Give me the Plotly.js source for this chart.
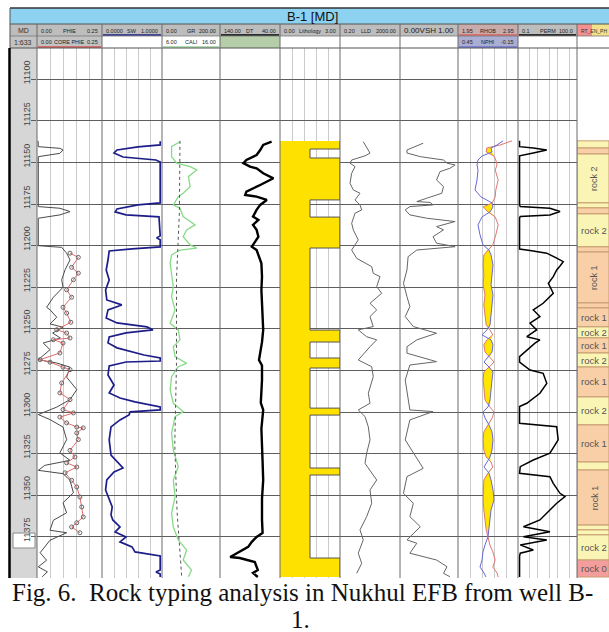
<!DOCTYPE html>
<html><head><meta charset="utf-8">
<script src="https://cdn.plot.ly/plotly-3.0.1.min.js"></script>
<style>html,body{margin:0;padding:0;background:#fff;} #chart{width:609px;height:632px;}</style>
</head><body><div id="chart"></div>
<script>
// ---------------- DATA ----------------
const depthTicks = [11100,11125,11150,11175,11200,11225,11250,11275,11300,11325,11350,11375,11400];

const phieDepth = [11137,11140.5,11141.5,11142.5,11144.5,11146.5,11176.5,11177.5,11179.5,11181.5,11183.5,11200,11201,11204.5,11208.5,11214.5,11220.5,11225,11231,11237,11238.5,11243,11247,11249,11252.5,11255.5,11258.5,11262.5,11268.5,11270.5,11273,11279,11286.5,11292.5,11297,11301.5,11304.5,11309,11316.5,11324.5,11329,11332,11335,11337,11341,11348.5,11354.5,11360.5,11365,11371,11372.5,11377,11384.5,11389,11393,11396,11399];
const phieVal = [0.004,0.005,0.088,0.10,0.088,0.005,0.005,0.088,0.127,0.088,0.005,0.005,0.095,0.114,0.127,0.108,0.095,0.10,0.063,0.037,0.05,0.076,0.05,0.10,0.06,0.09,0.024,0.05,0.005,0.076,0.127,0.114,0.153,0.127,0.076,0.005,0.05,0.10,0.114,0.088,0.127,0.03,0.005,0.10,0.127,0.14,0.10,0.114,0.063,0.05,0.114,0.05,0.012,0.037,0.005,0.04,0.02];

const coreDepth = [11204.5,11207,11213,11216.5,11220.5,11226.5,11231,11237,11240.5,11246,11250.5,11252.5,11255.5,11256.5,11258.5,11264.5,11268.5,11270,11273,11274.5,11282.5,11288.5,11292.5,11298.5,11300.5,11303,11306.5,11309,11309.5,11312.5,11316.5,11323,11327,11330.5,11333,11336.5,11341,11345,11351,11357,11363,11366.5,11369,11372.5];
const coreVal = [0.127,0.159,0.133,0.159,0.14,0.114,0.133,0.10,0.114,0.13,0.076,0.114,0.127,0.063,0.10,0.088,0.012,0.05,0.10,0.127,0.095,0.088,0.127,0.10,0.14,0.088,0.114,0.153,0.178,0.153,0.159,0.127,0.146,0.114,0.153,0.108,0.133,0.153,0.165,0.172,0.178,0.153,0.133,0.165];

const swDepth = [11137.3,11139.4,11140.6,11142.5,11144.3,11146.7,11148.5,11149.7,11174.3,11175.5,11177.9,11179.7,11181.5,11182.7,11194.1,11195.3,11196.5,11200.7,11201.9,11203.2,11208.6,11214.6,11220.6,11226.6,11232.6,11235.6,11238.6,11243.4,11246.4,11248.8,11250.6,11252.4,11254.8,11258.4,11261.4,11265.7,11267.5,11269.3,11269.9,11272.3,11277.7,11283.7,11288.5,11291.5,11293.9,11296.9,11298.7,11299.9,11301.7,11304.7,11308.9,11316.7,11325.8,11331.8,11333.6,11336.0,11340.8,11346.8,11352.8,11357.0,11361.8,11364.8,11369.0,11372.0,11375.0,11378.0,11381.0,11384.0,11386.5,11394.9,11396.1,11397.3,11399.1];
const swVal = [0.97,0.97,0.6,0.25,0.2,0.35,0.9,0.97,0.97,0.6,0.25,0.22,0.4,0.95,0.97,0.91,0.97,0.97,0.5,0.12,0.1,0.07,0.12,0.06,0.08,0.33,0.1,0.07,0.25,0.75,0.85,0.4,0.12,0.1,0.25,0.7,0.97,0.97,0.4,0.12,0.1,0.2,0.12,0.3,0.55,0.97,0.97,0.47,0.45,0.3,0.15,0.12,0.15,0.3,0.35,0.2,0.08,0.06,0.12,0.17,0.15,0.18,0.3,0.22,0.4,0.3,0.5,0.55,0.97,0.97,0.9,0.97,0.97];

const grDepth = [11137.5,11140.5,11146.5,11150.4,11152.5,11154.5,11158.5,11164.5,11168.5,11170.5,11175.5,11177.5,11182.5,11185.5,11187.5,11190.5,11194.6,11199.5,11201.5,11202.6,11205.6,11210.6,11216.6,11224.6,11230.6,11238.6,11246.6,11250.6,11256.6,11260.7,11266.7,11270.7,11272.7,11278.7,11286.7,11294.7,11299.7,11302.7,11312.7,11322.8,11332.8,11340.8,11350.8,11360.8,11368.9,11376.8,11382.9,11388.9,11394.9,11398.9];
const grVal = [62,33,33,51,97,120,91,97,73,56,39,62,73,97,114,85,73,97,120,62,33,28,33,39,33,45,28,56,62,39,45,85,56,33,28,39,73,45,33,39,56,39,45,33,39,56,85,73,102,91];

const caliDepth = [11137,11180,11220,11270,11320,11360,11399];
const caliVal = [9.1,9.0,8.5,8.5,8.2,8.6,9.4];

const dtDepth = [11137.5,11139.4,11142.5,11145.5,11148.5,11150.4,11152.5,11153.5,11156.5,11159.5,11163.5,11167.5,11169.5,11170.5,11172.5,11175.5,11178.5,11182.5,11184.5,11187.5,11190.5,11194.6,11200.6,11202.6,11210.6,11218.6,11226.6,11240,11250.6,11258,11268.7,11272,11280.7,11294.5,11298.7,11310,11316.7,11330,11340.8,11352,11364.8,11372.6,11375.0,11378.0,11381.0,11387.1,11387.7,11390.1,11394.9,11396.7,11399.1];
const dtVal = [54,68,73,79,96,101,90,79,68,51,73,96,98,79,62,73,79,85,76,85,79,76,87,79,71,70,71,69,68,70,75,70,70,72,68,71,70,69,68,70,70,69,79,87,93,123,107,82,77,85,77];

const lithTop = [11137.1,11141.9,11147.3,11172.5,11182.8,11201.4,11250.7,11257.9,11267.5,11273.5,11297.6,11301.8,11333.6,11337.8,11387.7];
const lithBase = [11141.9,11147.3,11172.5,11182.8,11201.4,11250.7,11257.9,11267.5,11273.5,11297.6,11301.8,11333.6,11337.8,11387.7,11399.1];
const lithVal = [3,1.5,3,1.5,3,1.5,3,1.5,3,1.5,3,1.5,3,1.5,3];

const lldDepth = [11137.5,11144.4,11146,11148.5,11150.4,11152.5,11156.5,11162.5,11166.5,11168.5,11172.5,11175.5,11178.5,11180.5,11186.5,11190.5,11196.5,11202.6,11207.6,11210.6,11212.6,11216.6,11218.6,11224.6,11228.6,11234.6,11238.6,11242.6,11248.6,11250.6,11254.7,11256.6,11260.7,11268.7,11272.7,11278.7,11288.7,11294.7,11298.7,11302.7,11308.8,11316.7,11324.7,11330.8,11340.8,11346.8,11354.8,11362.8,11370.8,11376.8,11384.8,11390.9,11396.9];
const lldVal = [7.1,20,9.3,1.2,0.93,2.0,1.2,0.93,1.54,4.3,2.0,4.3,5.6,2.0,1.2,1.54,3.3,1.2,2.6,12,26,33,93,56,120,20,56,20,33,3.3,12,56,20,3.3,26,33,15.4,20,3.3,9.3,15.4,20,12,9.3,56,20,26,12,4.3,7.1,3.3,5.6,2.6];

const vshDepth = [11138.4,11140,11142.5,11144.3,11146.5,11148.5,11150.4,11151.5,11153.5,11155.5,11160.5,11164.5,11168.5,11171.5,11173.5,11174,11175.5,11176.5,11178.5,11181.5,11183.5,11185.5,11188.5,11190.5,11194.6,11198.5,11200.6,11202.6,11206.6,11214.6,11222.6,11230.6,11236.6,11242.6,11248.6,11252.6,11256.6,11260.7,11264.6,11269.7,11271.7,11280.7,11288.7,11298.7,11299.7,11304.7,11316.7,11324.7,11333.8,11338.8,11348.8,11354.8,11362.8,11368.9,11376.8,11378.8,11384.8,11388.9,11392.9,11396.9,11398.9];
const vshVal = [0.40,0.28,0.12,0.12,0.35,0.75,0.81,0.95,0.86,0.69,0.63,0.75,0.72,0.46,0.29,0.52,0.57,0.17,0.09,0.17,0.46,0.95,0.63,0.75,0.57,0.63,0.95,0.29,0.14,0.12,0.06,0.12,0.17,0.09,0.23,0.63,0.29,0.12,0.12,0.63,0.17,0.09,0.12,0.17,0.57,0.17,0.09,0.23,0.40,0.12,0.06,0.23,0.17,0.35,0.12,0.29,0.17,0.63,0.81,0.75,0.86];

const rnDepth = [11137.0,11139.5,11141.3,11143.7,11146.1,11148.5,11151.5,11154.5,11160.5,11166.5,11170.7,11174.3,11176.7,11179.7,11182.7,11187.5,11193.5,11199.5,11202.6,11205.6,11211.6,11217.6,11223.6,11229.6,11235.6,11241.6,11247.6,11250.6,11253.6,11256.6,11259.6,11263.9,11266.9,11269.9,11272.9,11275.9,11280.7,11286.7,11292.7,11296.9,11299.9,11303.5,11307.7,11311.9,11316.7,11322.8,11327.0,11330.0,11333.0,11336.6,11340.8,11346.8,11352.8,11358.8,11364.8,11370.8,11375.0,11379.8,11384.0,11388.9,11393.1,11396.7,11399.1];
const rhobVal = [2.85,2.65,2.43,2.42,2.55,2.58,2.60,2.57,2.62,2.58,2.57,2.52,2.37,2.45,2.57,2.62,2.58,2.53,2.45,2.38,2.37,2.38,2.37,2.40,2.38,2.40,2.42,2.48,2.53,2.43,2.38,2.40,2.48,2.55,2.47,2.38,2.37,2.38,2.40,2.48,2.55,2.52,2.45,2.38,2.37,2.38,2.42,2.50,2.53,2.45,2.38,2.37,2.37,2.38,2.40,2.42,2.45,2.48,2.53,2.57,2.53,2.60,2.62];
const nphiVal = [0.00,0.06,0.12,0.11,0.21,0.25,0.26,0.25,0.26,0.28,0.22,0.11,0.10,0.13,0.21,0.25,0.23,0.20,0.14,0.12,0.10,0.11,0.12,0.10,0.11,0.12,0.13,0.16,0.21,0.12,0.10,0.11,0.15,0.19,0.14,0.10,0.11,0.12,0.13,0.15,0.20,0.18,0.14,0.11,0.10,0.11,0.13,0.16,0.19,0.14,0.12,0.10,0.09,0.12,0.13,0.14,0.15,0.18,0.20,0.21,0.23,0.19,0.17];

const permDepth = [11137,11140.5,11141.3,11142.5,11144.3,11145.5,11146,11175.5,11176.5,11177.5,11179.5,11181.5,11182.5,11183.3,11202,11202.9,11204.5,11207.5,11209.6,11212.2,11214.6,11218.6,11222.6,11228.6,11234.6,11238.6,11242.6,11246.6,11250.6,11254.7,11256.6,11258.6,11262.7,11266.7,11269.9,11274.7,11276.7,11282.7,11288.7,11294.7,11296.7,11306.7,11308.8,11316.7,11324.7,11328.8,11332.8,11336.8,11338.8,11342.8,11348.8,11350.8,11354.8,11358.8,11364.8,11368.9,11371.9,11374.9,11376.8,11379.8,11382.9,11384.8,11386.5,11399.1];
const permVal = [0.12,0.12,0.6,2.9,0.6,0.13,0.12,0.12,0.13,4.2,13.7,4.2,0.13,0.12,0.12,0.41,2.9,9.3,20,13.7,9.3,6.2,3.5,6.2,1.9,0.6,1.3,0.41,0.89,0.28,1.3,0.73,0.28,0.12,0.12,0.41,1.9,2.9,1.3,0.28,0.12,0.12,9.3,11,4.2,0.6,0.13,0.12,4.2,6.2,13.7,24.5,9.3,4.2,1.3,0.19,4.2,0.19,2.9,0.13,0.6,0.13,0.12,0.12];

const rockTop = [11137.0,11141.3,11144.9,11174.3,11177.3,11180.9,11200.7,11203.8,11234.4,11237.4,11248.8,11255.4,11264.5,11272.9,11290.9,11307.7,11330.0,11334.8,11367.9,11370.8,11373.8,11388.9];
const rockBase = [11141.3,11144.9,11174.3,11177.3,11180.9,11200.7,11203.8,11234.4,11237.4,11248.8,11255.4,11264.5,11272.9,11290.9,11307.7,11330.0,11334.8,11367.9,11370.8,11373.8,11388.9,11399.1];
const rockType = [2,1,2,2,1,2,1,1,1,1,2,1,2,1,2,1,2,1,2,2,2,0];

const hdrName = ['PHIE','SW','GR','DT','Lithology','LLD','VSH','RHOB','PERM'];
const hdrMin = ['0.00','0.0000','0.00','140.00','0.00','0.20','0.00','1.95','0.1'];
const hdrMax = ['0.25','1.0000','200.00','40.00','3.00','2000.00','1.00','2.95','100.0'];
const hdr2Track = [0,2,7];
const hdr2Name = ['CORE PHIE','CALI','NPHI'];
const hdr2Min = ['0.00','6.00','0.45'];
const hdr2Max = ['0.25','16.00','-0.15'];

// ---------------- LAYOUT HELPERS ----------------
const W=609, H=632;
const fx=v=>v/W, fy=v=>1-v/H;
const edges=[37,102,162,220,280,340,400,458,518,577];
const yDom=[fy(578), fy(48)];
const gridC='#cbcbcb';
const SANS='Liberation Sans, Arial, sans-serif';
const SERIF='Liberation Serif, Times New Roman, serif';
function trackAxis(i, opt){
  const x1 = i+1<edges.length ? edges[i+1] : W;
  return Object.assign({domain:[fx(edges[i]), fx(x1)], anchor:'y', showticklabels:false, ticks:'', zeroline:false, showline:false, showgrid:false, fixedrange:true}, opt);
}
function overAxis(base, range){ return {overlaying:base, anchor:'y', range:range, showticklabels:false, showgrid:false, zeroline:false, ticks:'', fixedrange:true}; }

const B = {type:'scatter', mode:'lines', hoverinfo:'skip', showlegend:false};
const traces=[];
traces.push(Object.assign({}, B, {x:phieVal, y:phieDepth, xaxis:'x', yaxis:'y', line:{color:'#4a4a4a', width:1}}));
traces.push(Object.assign({}, B, {mode:'lines+markers', x:coreVal, y:coreDepth, xaxis:'x', yaxis:'y', line:{color:'#e36b6b', width:1}, marker:{symbol:'circle-open', size:4, color:'#666', line:{width:1}}}));
traces.push(Object.assign({}, B, {x:swVal, y:swDepth, xaxis:'x2', yaxis:'y', line:{color:'#1d1d8a', width:1.7}}));
traces.push(Object.assign({}, B, {x:grVal, y:grDepth, xaxis:'x3', yaxis:'y', line:{color:'#88da88', width:1.3}}));
traces.push(Object.assign({}, B, {x:caliVal, y:caliDepth, xaxis:'x4', yaxis:'y', line:{color:'#555', width:1, dash:'dot'}}));
traces.push(Object.assign({}, B, {x:dtVal, y:dtDepth, xaxis:'x5', yaxis:'y', line:{color:'#000', width:2.4}}));
const lx=[], ly=[];
lithTop.forEach((t,i)=>{lx.push(lithVal[i]); ly.push(t);});
lx.push(lithVal[lithVal.length-1]); ly.push(lithBase[lithBase.length-1]);
traces.push(Object.assign({}, B, {x:lx, y:ly, xaxis:'x6', yaxis:'y', line:{color:'#555', width:1, shape:'vh'}, fill:'tozerox', fillcolor:'#ffe100'}));
traces.push(Object.assign({}, B, {x:lldVal, y:lldDepth, xaxis:'x7', yaxis:'y', line:{color:'#666', width:1}}));
traces.push(Object.assign({}, B, {x:vshVal, y:vshDepth, xaxis:'x8', yaxis:'y', line:{color:'#666', width:1}}));
const nEq = nphiVal.map(n=>1.95+(0.45-n)/0.6);
const fillR = rhobVal.map((r,i)=>Math.max(r,nEq[i]));
traces.push(Object.assign({}, B, {x:rhobVal, y:rnDepth, xaxis:'x9', yaxis:'y', line:{width:0, color:'rgba(0,0,0,0)'}}));
traces.push(Object.assign({}, B, {x:fillR, y:rnDepth, xaxis:'x9', yaxis:'y', line:{width:0, color:'rgba(0,0,0,0)'}, fill:'tonextx', fillcolor:'#ffe600'}));
traces.push(Object.assign({}, B, {x:rhobVal, y:rnDepth, xaxis:'x9', yaxis:'y', line:{color:'#e07676', width:1}}));
traces.push(Object.assign({}, B, {x:nphiVal, y:rnDepth, xaxis:'x10', yaxis:'y', line:{color:'#6868dc', width:1}}));
traces.push(Object.assign({}, B, {x:permVal, y:permDepth, xaxis:'x11', yaxis:'y', line:{color:'#000', width:1.5}}));
const rockColors={0:'#f49d9d',1:'#f8cfa7',2:'#fbf5b5'};
traces.push({type:'bar', orientation:'h', xaxis:'x12', yaxis:'y2', hoverinfo:'skip', showlegend:false,
  x:rockTop.map(()=>1), base:0, y:rockTop.map((t,i)=>(t+rockBase[i])/2), width:rockTop.map((t,i)=>rockBase[i]-t),
  marker:{color:rockType.map(t=>rockColors[t]), line:{color:'#c69c70', width:1}}});

// ---------------- SHAPES ----------------
const shapes=[];
function rect(x0,y0,x1,y1,fill,layer){shapes.push({type:'rect',xref:'paper',yref:'paper',x0:fx(x0),x1:fx(x1),y0:fy(y1),y1:fy(y0),fillcolor:fill,line:{width:0},layer:layer||'below'});}
function hline(x0,x1,y,c,w){shapes.push({type:'line',xref:'paper',yref:'paper',x0:fx(x0),x1:fx(x1),y0:fy(y),y1:fy(y),line:{color:c,width:w}});}
function vline(x,y0,y1,c,w){shapes.push({type:'line',xref:'paper',yref:'paper',x0:fx(x),x1:fx(x),y0:fy(y0),y1:fy(y1),line:{color:c,width:w}});}
rect(10,8,W,24,'#8dd3f1');
hline(10,W,8,'#333',1.5);
rect(10,24,W,36,'#bdbdbd');
rect(10,36,edges[1],48,'#c3c3c3');
rect(edges[3],36,edges[4],48,'#b5cda8');
rect(edges[7],24,edges[8],36,'#c9abab');
rect(edges[7],36,edges[8],48,'#aaaed2');
rect(edges[9],24,592,36,'#f39090');
rect(592,24,W,36,'#f3e08a');
rect(10,48,37,578,'#d6d6d6');
rect(13,533,35,548,'#ffffff');
shapes.push({type:'rect',xref:'paper',yref:'paper',x0:fx(13),x1:fx(35),y0:fy(548),y1:fy(533),line:{color:'#888',width:1},fillcolor:'rgba(0,0,0,0)'});
hline(edges[1]+1,edges[2]-1,35,'#1d1d8a',1.5);
hline(edges[3]+1,edges[4]-1,35,'#000',1.5);
hline(edges[7]+1,edges[8]-1,35,'#d86060',1.5);
hline(edges[8]+1,edges[9]-1,35,'#000',1.5);
hline(edges[0]+1,edges[1]-1,47,'#d65050',1.5);
hline(edges[2]+1,edges[3]-1,47,'#66bb66',1.2);
hline(edges[7]+1,edges[8]-1,47,'#5555cc',1.2);
hline(10,W,24,'#555',1);
hline(10,W,36,'#777',0.8);
hline(10,W,48,'#555',1);
vline(10,8,48,'#555',1);
edges.forEach(e=>vline(e,24,578,'#6a6a6a',1));
vline(9.5,48,578,'#000',2.5);

// ---------------- ANNOTATIONS ----------------
const ann=[];
function txt(x,y,t,opt){ann.push(Object.assign({xref:'paper',yref:'paper',x:fx(x),y:fy(y),text:t,showarrow:false,font:{family:SANS,size:5.5,color:'#222'},xanchor:'center',yanchor:'middle'},opt||{}));}
txt(312,16,'B-1 [MD]',{font:{family:SANS,size:13,color:'#111'}});
txt(23,30.5,'MD',{font:{family:SANS,size:7,color:'#333'}});
txt(23,42,'1:633',{font:{family:SANS,size:7,color:'#333'}});
hdrName.forEach((n,i)=>{
  const x0=edges[i], x1=edges[i+1];
  if(n==='VSH'){
    const f={family:SANS,size:8,color:'#222'};
    txt(x0+2,30.5,hdrMin[i]+n,{xanchor:'left',font:f});
    txt(x1-2,30.5,hdrMax[i],{xanchor:'right',font:f});
    return;
  }
  const f={family:SANS,size:5.5,color:'#222'};
  txt(x0+2,30.5,hdrMin[i],{xanchor:'left',font:f});
  txt((x0+x1)/2-(n==='LLD'?4:0),30.5,n,{font:f});
  txt(x1-2,30.5,hdrMax[i],{xanchor:'right',font:f});
});
hdr2Track.forEach((k,j)=>{
  const x0=edges[k], x1=edges[k+1];
  const f={family:SANS,size:5.5,color:'#222'};
  txt(x0+2,42,hdr2Min[j],{xanchor:'left',font:f});
  txt((x0+x1)/2,42,hdr2Name[j],{font:f});
  txt(x1-2,42,hdr2Max[j],{xanchor:'right',font:f});
});
txt(579,30.5,'RT_EN_PH',{xanchor:'left',font:{family:SANS,size:5,color:'#333'}});
depthTicks.forEach(d=>ann.push({xref:'paper',yref:'y',x:fx(20),y:d,yshift:7,text:String(d),textangle:-90,showarrow:false,font:{family:SANS,size:9,color:'#444'}}));
rockTop.forEach((t,i)=>{
  const th=rockBase[i]-t; if(th<5) return;
  const mid=(t+rockBase[i])/2, lab='rock '+rockType[i];
  if(th>25) ann.push({xref:'x12',yref:'y2',x:0.55,y:mid,text:lab,textangle:-90,showarrow:false,font:{family:SANS,size:9,color:'#555'}});
  else ann.push({xref:'x12',yref:'y2',x:0.06,y:mid,text:lab,xanchor:'left',showarrow:false,font:{family:SANS,size:9.5,color:'#555'}});
});
txt(10,592,'Fig. 6.  Rock typing analysis in Nukhul EFB from well B-',{xanchor:'left',height:28,font:{family:SERIF,size:25,color:'#111'}});
txt(300,619,'1.',{height:26,font:{family:SERIF,size:25,color:'#111'}});

const layout={
  width:W, height:H, margin:{l:0,r:0,t:0,b:0}, paper_bgcolor:'#fff', plot_bgcolor:'#fff', showlegend:false,
  xaxis: trackAxis(0,{range:[0,0.25], showgrid:true, gridcolor:gridC, tickvals:[0.05,0.1,0.15,0.2]}),
  xaxis2: trackAxis(1,{range:[0,1], showgrid:true, gridcolor:gridC, tickvals:[0.2,0.4,0.6,0.8]}),
  xaxis3: trackAxis(2,{range:[0,200]}),
  xaxis4: overAxis('x3',[6,16]),
  xaxis5: trackAxis(3,{range:[140,40]}),
  xaxis6: trackAxis(4,{range:[0,3], showgrid:true, gridcolor:gridC, tickvals:[0.6,1.2,1.8,2.4]}),
  xaxis7: trackAxis(5,{type:'log', range:[Math.log10(0.2),Math.log10(2000)]}),
  xaxis8: trackAxis(6,{range:[0,1]}),
  xaxis9: trackAxis(7,{range:[1.95,2.95], showgrid:true, gridcolor:gridC, tickvals:[2.15,2.35,2.55,2.75]}),
  xaxis10: overAxis('x9',[0.45,-0.15]),
  xaxis11: trackAxis(8,{type:'log', range:[-1,2], showgrid:true, gridcolor:gridC, tickvals:[0.4,1,4,10,40]}),
  xaxis12: trackAxis(9,{range:[0,1], anchor:'y2'}),
  yaxis:{domain:yDom, range:[11399.7,11081.2], anchor:'x', tickvals:depthTicks, showgrid:true, gridcolor:'#5e5e5e', gridwidth:1, ticks:'outside', ticklen:5, tickcolor:'#5e5e5e', showticklabels:false, zeroline:false, showline:false, fixedrange:true},
  yaxis2:{domain:yDom, matches:'y', anchor:'x12', showgrid:false, showticklabels:false, zeroline:false, ticks:'', fixedrange:true},
  shapes:shapes, annotations:ann, bargap:0
};
Plotly.newPlot('chart', traces, layout, {staticPlot:true, displayModeBar:false});
</script>
</body></html>
